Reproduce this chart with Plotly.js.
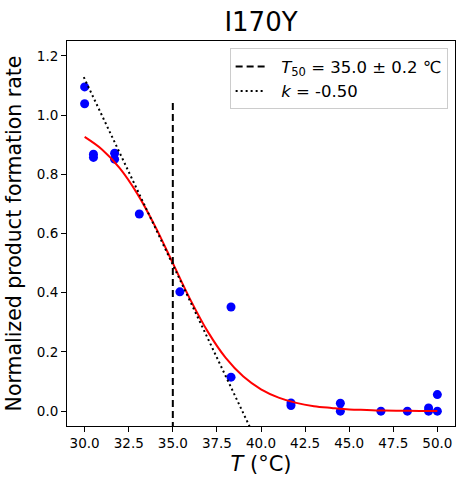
<!DOCTYPE html>
<html>
<head>
<meta charset="utf-8">
<script src="https://cdn.plot.ly/plotly-3.0.1.min.js"></script>
<style>html,body{margin:0;padding:0;background:#fff;} #chart{width:464px;height:487px;}</style>
</head>
<body>
<div id="chart"></div>
<script>
// Measured data points
const pointT = [30.0, 30.0, 30.5, 30.5, 31.7, 31.7, 33.1, 35.4, 38.3, 38.3, 41.7, 41.7, 44.5, 44.5, 46.8, 48.3, 49.5, 49.5, 50.0, 50.0];
const pointRate = [1.095, 1.038, 0.868, 0.857, 0.871, 0.851, 0.666, 0.403, 0.352, 0.115, 0.028, 0.019, 0.027, 0.0, 0.0, 0.0, 0.011, 0.0, 0.056, 0.0];

// Fitted curve, values
const fitT = [30, 31, 32, 33, 34, 35, 36, 37, 38, 39, 40, 41, 42, 43, 44, 45, 46, 47, 48, 49, 50];
const fitRate = [0.926, 0.883, 0.820, 0.733, 0.624, 0.500, 0.376, 0.267, 0.180, 0.117, 0.074, 0.046, 0.028, 0.017, 0.011, 0.006, 0.004, 0.002, 0.0014, 0.0008, 0.0005];

// T50 marker line
const t50T = [35.0, 35.0];
const t50Rate = [-0.06, 1.05];

// Slope (k) line
const slopeT = [29.95, 39.5];
const slopeRate = [1.128, -0.07];

const t50Label = '&nbsp;&nbsp;<i>T</i><sub>50</sub> = 35.0 ± 0.2 ℃';
const kLabel = '&nbsp;&nbsp;<i>k</i> = -0.50';
const titleText = 'I170Y';
const xTitle = '<i>T</i> (°C)';
const yTitle = 'Normalized product formation rate';
const xTickVals = [30, 32.5, 35, 37.5, 40, 42.5, 45, 47.5, 50];
const xTickText = ['30.0', '32.5', '35.0', '37.5', '40.0', '42.5', '45.0', '47.5', '50.0'];
const yTickVals = [0, 0.2, 0.4, 0.6, 0.8, 1.0, 1.2];
const yTickText = ['0.0', '0.2', '0.4', '0.6', '0.8', '1.0', '1.2'];

const FONT = 'DejaVu Sans, sans-serif';

const traces = [
  {x: pointT, y: pointRate, type: 'scatter', mode: 'markers',
   marker: {color: '#0000ff', size: 9}, showlegend: false},
  {x: fitT, y: fitRate, type: 'scatter', mode: 'lines',
   line: {color: '#ff0000', width: 2, shape: 'spline'}, showlegend: false},
  {x: t50T, y: t50Rate, type: 'scatter', mode: 'lines', name: t50Label,
   line: {color: '#000000', width: 2, dash: '7px,4px'}},
  {x: slopeT, y: slopeRate, type: 'scatter', mode: 'lines', name: kLabel,
   line: {color: '#000000', width: 2, dash: '2px,3px'}}
];

const axisCommon = {
  showline: true, mirror: true, linecolor: '#000', linewidth: 1,
  ticks: 'outside', ticklen: 5, tickwidth: 1, tickcolor: '#000',
  showgrid: false, zeroline: false,
  tickfont: {family: FONT, size: 13.5, color: '#000'}
};

const layout = {
  width: 464, height: 487,
  margin: {l: 67, r: 9, t: 41, b: 61},
  paper_bgcolor: '#fff', plot_bgcolor: '#fff',
  font: {family: FONT, color: '#000'},
  title: {text: titleText, font: {family: FONT, size: 26, color: '#000'},
          xref: 'paper', x: 0.5, xanchor: 'center', yref: 'container', y: 0.955, yanchor: 'middle'},
  xaxis: Object.assign({}, axisCommon, {
    range: [29, 51], tickvals: xTickVals, ticktext: xTickText,
    title: {text: xTitle, font: {family: FONT, size: 21, color: '#000'}, standoff: 6}
  }),
  yaxis: Object.assign({}, axisCommon, {
    range: [-0.05, 1.25], tickvals: yTickVals, ticktext: yTickText,
    title: {text: yTitle, font: {family: FONT, size: 20.5, color: '#000'}, standoff: 9}
  }),
  legend: {x: 0.981, xanchor: 'right', y: 0.981, yanchor: 'top',
           bgcolor: '#fff', bordercolor: '#cccccc', borderwidth: 1,
           font: {family: FONT, size: 16.5, color: '#000'}}
};

Plotly.newPlot('chart', traces, layout, {displayModeBar: false, staticPlot: true});
</script>
</body>
</html>
